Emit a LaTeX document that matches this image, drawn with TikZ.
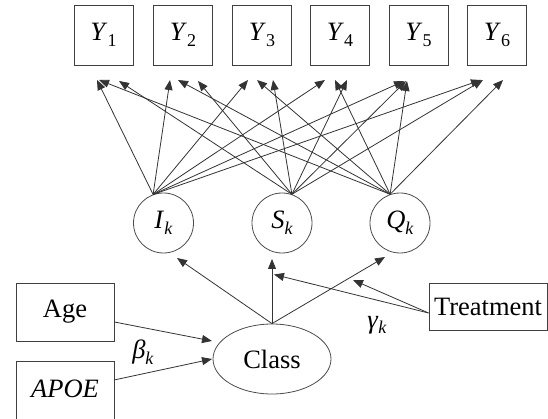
\documentclass[tikz,border=0pt]{standalone}
\usepackage{fontspec}
\setmainfont{Liberation Serif}
\usetikzlibrary{arrows.meta,shapes.geometric,calc}
\newcommand\mysub[1]{\raisebox{-0.22em}{\fontsize{18}{19}\selectfont #1}}
\begin{document}
\begin{tikzpicture}[x=1pt,y=-1pt,
  every node/.style={font=\fontsize{26.5}{30}\selectfont, text=black},
  obsbox/.style={draw=black!75, line width=0.9pt, inner sep=0pt},
  latent/.style={circle, draw=black!70, line width=0.8pt, minimum size=60pt, inner sep=0pt},
  conn/.style={draw=black!80, line width=0.8pt, -{Triangle[length=10pt,width=8pt]}},
  lbl/.style={inner sep=0pt}
]
\useasboundingbox (0,0) rectangle (548,419);

% observed outcomes
\foreach \i/\x in {1/103.5,2/183,3/262,4/340,5/418.5,6/497}
  \node[obsbox, minimum width=59pt, minimum height=60pt] (y\i) at (\x,35) {\textit{Y}\mysub{\i}};

% latent growth factors
\node[latent] (I) at (163.5,223) {\textit{I}\mysub{\textit{k}}};
\node[latent] (S) at (282,223) {\textit{S}\mysub{\textit{k}}};
\node[latent] (Q) at (400,223) {\textit{Q}\mysub{\textit{k}}};

% class
\node[ellipse, draw=black!70, line width=0.8pt, minimum width=118pt, minimum height=70pt, inner sep=0pt] (class) at (272,359) {Class};

% covariates
\node[obsbox, minimum width=98pt, minimum height=58pt] (age) at (65,312) {Age};
\node[obsbox, minimum width=98pt, minimum height=69pt] (apoe) at (65,395.5) {};
\node[lbl] (apoetext) at (65,389) {\textit{APOE}};
\node[obsbox, minimum width=118pt, minimum height=47pt] (treat) at (488,306.5) {Treatment};

% labels
\node[lbl] (beta) at (143,352) {\textit{β}\mysub{\textit{k}}};
\node[lbl] (gamma) at (377,325) {\textit{γ}\mysub{\textit{k}}};

% apex points on the latent circles
\coordinate (Ia) at (I.110);
\coordinate (Sa) at (S.71);
\coordinate (Qa) at (Q.109);

% arrow tips under the outcome boxes
\coordinate (tI1) at (97,80);  \coordinate (tQ1) at (99,80);  \coordinate (tS1) at (119,81);
\coordinate (tI2) at (170,80); \coordinate (tQ2) at (178,80); \coordinate (tS2) at (198,81);
\coordinate (tI3) at (248,80); \coordinate (tQ3) at (257,80); \coordinate (tS3) at (273,80);
\coordinate (tI4) at (325,80); \coordinate (tQ4) at (335,80); \coordinate (tS4) at (347,80);
\coordinate (tI5) at (404,81); \coordinate (tS5) at (406,81); \coordinate (tQ5) at (407,81);
\coordinate (tI6) at (481,80); \coordinate (tS6) at (483,80); \coordinate (tQ6) at (503,80);

\foreach \f in {I,S,Q}
  \foreach \i in {1,...,6}
    \draw[conn] (\f a) -- (t\f\i);

% class to growth factors
\coordinate (cI) at (177,258);
\coordinate (cS) at (272,259);
\coordinate (cQ) at (385,257);
\draw[conn] (class.north) -- (cI);
\draw[conn] (class.north) -- (cS);
\draw[conn] (class.north) -- (cQ);

% treatment effects
\coordinate (tr) at ($(treat.west)+(0,6.5)$);
\coordinate (gS) at (274,274.5);
\coordinate (gQ) at (353,280);
\draw[conn] (tr) -- (gS);
\draw[conn] (tr) -- (gQ);

% covariates to class
\coordinate (ageout) at ($(age.east)+(0,10)$);
\coordinate (apoeout) at (114,380);
\coordinate (cA) at (212,341);
\coordinate (cP) at (212,359);
\draw[conn] (ageout) -- (cA);
\draw[conn] (apoeout) -- (cP);
\end{tikzpicture}
\end{document}
